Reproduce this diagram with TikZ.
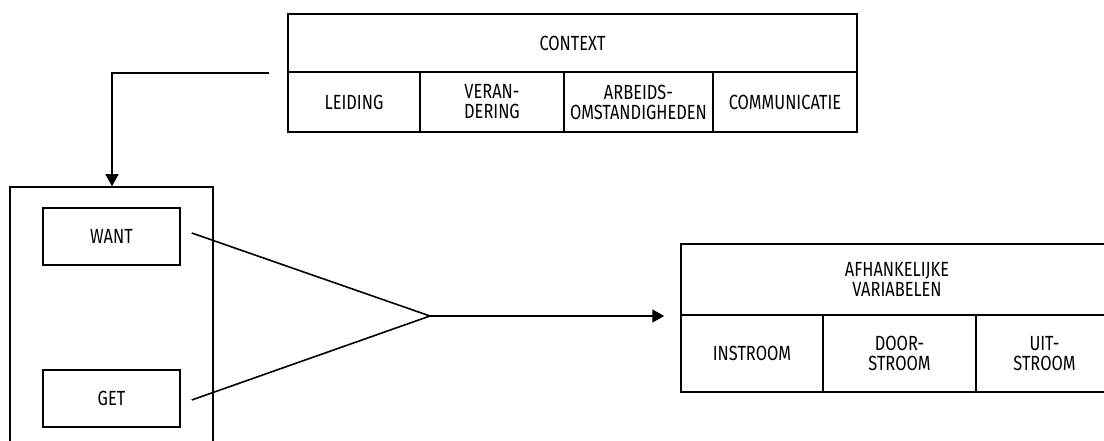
\documentclass[tikz,border=0pt]{standalone}
\usepackage{fontspec}
\setmainfont{Fira Sans}[FakeStretch=0.8]
\usetikzlibrary{arrows.meta}
\begin{document}
\begin{tikzpicture}[x=1pt,y=-1pt,
  cell/.style={draw, line width=1.5pt, inner sep=0pt, align=center,
    font=\fontsize{20.5}{20}\selectfont},
  conn/.style={line width=1.6pt},
  arr/.style={conn, -{Triangle[width=13pt,length=12pt]}}]
\useasboundingbox (0,0) rectangle (1104,441);
\clip (0,0) rectangle (1104,441);
% context block
\node[cell, minimum width=569pt, minimum height=58pt] (ctx) at (572.5,43) {CONTEXT};
\node[cell, minimum width=132pt, minimum height=60pt] (lei) at (354,102) {LEIDING};
\node[cell, minimum width=144pt, minimum height=60pt] (ver) at (492,102) {VERAN-\\DERING};
\node[cell, minimum width=149pt, minimum height=60pt] (arb) at (638.5,102) {ARBEIDS-\\OMSTANDIGHEDEN};
\node[cell, minimum width=144pt, minimum height=60pt] (com) at (785,102) {COMMUNICATIE};
% left frame
\node[cell, minimum width=203pt, minimum height=290pt] (frame) at (111.5,332) {};
\node[cell, minimum width=137pt, minimum height=57pt] (want) at (111.5,236.5) {WANT};
\node[cell, minimum width=137pt, minimum height=57pt] (get) at (111.5,398.5) {GET};
% dependent variables
\node[cell, minimum width=432pt, minimum height=71pt] (afh) at (897,279.5) {AFHANKELIJKE\\VARIABELEN};
\node[cell, minimum width=142pt, minimum height=77pt] (ins) at (752,353.5) {INSTROOM};
\node[cell, minimum width=153pt, minimum height=77pt] (door) at (899.5,353.5) {DOOR-\\STROOM};
\node[cell, minimum width=137pt, minimum height=77pt] (uit) at (1044.5,353.5) {UIT-\\STROOM};
% connectors
\coordinate (j) at (430,316);
\coordinate (bend) at (112,72);
\draw[arr] ([xshift=-18pt]ctx.south west) -| (frame.north -| bend) ;
\draw[conn] ([xshift=11pt,yshift=3.5pt]want.east) -- (j);
\draw[conn] ([xshift=11pt,yshift=-1.5pt]get.east) -- (j);
\draw[arr] (j) -- ([xshift=-16pt]afh.south west |- j);
\end{tikzpicture}
\end{document}
